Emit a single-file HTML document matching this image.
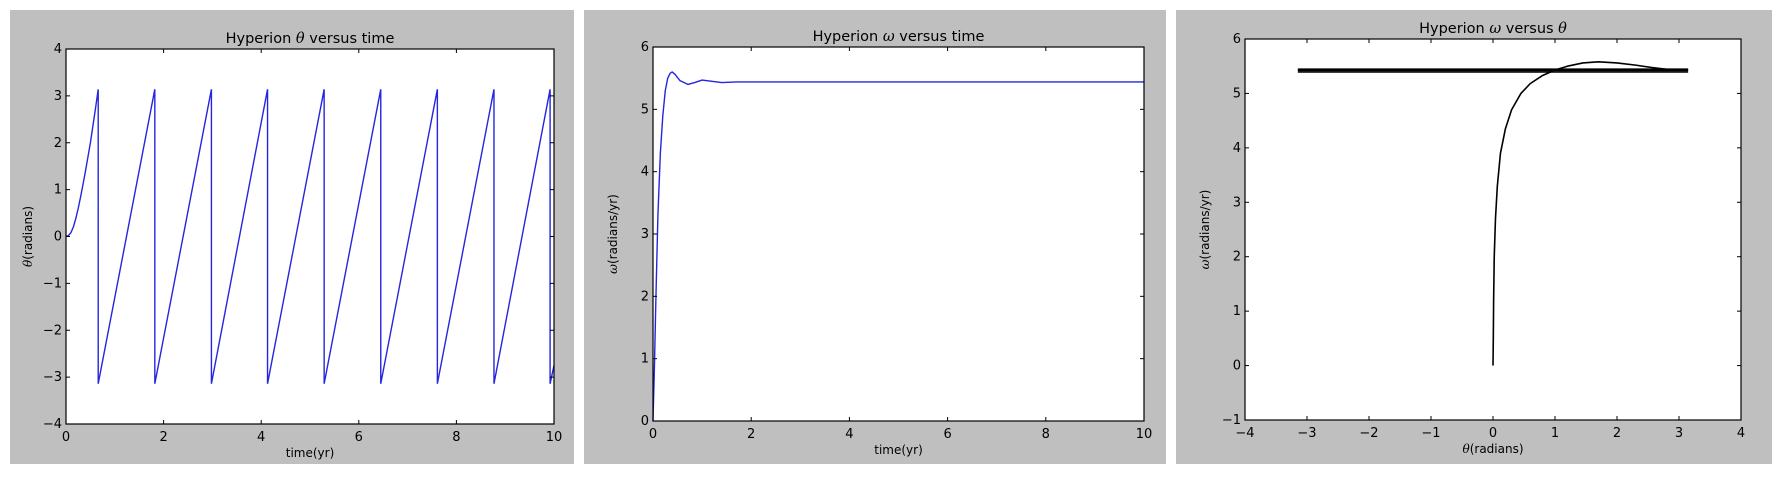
<!DOCTYPE html>
<html><head><meta charset="utf-8">
<style>
body{margin:0;background:#fff;width:1782px;height:475px;overflow:hidden;font-family:"Liberation Sans","DejaVu Sans",sans-serif}
svg text{font-family:"DejaVu Sans","Liberation Sans",sans-serif;fill:#000}
</style></head><body>
<svg id="c" width="1782" height="475" xmlns="http://www.w3.org/2000/svg"></svg>
<script>
// Panel 1: theta vs time (sawtooth)
const p1StartT=[0,0.05,0.1,0.15,0.2,0.25,0.3,0.35,0.4,0.45,0.5,0.55,0.6,0.66];
const p1StartTheta=[0,0.02,0.08,0.2,0.38,0.6,0.85,1.12,1.4,1.7,2.0,2.35,2.7,3.14];
const p1WrapTimes=[0.66,1.82,2.98,4.13,5.29,6.45,7.61,8.77,9.92];
const p1EndValue=-2.75;
// Panel 2: omega vs time
const p2T=[0,0.03,0.06,0.1,0.15,0.2,0.25,0.3,0.35,0.39,0.45,0.55,0.71,0.85,1.0,1.2,1.4,1.7,2.0,10];
const p2W=[0,0.9,2.0,3.3,4.3,4.9,5.3,5.5,5.58,5.6,5.56,5.46,5.4,5.43,5.47,5.45,5.43,5.44,5.44,5.44];
// Panel 3: omega vs theta
const p3Theta=[0,0.005,0.01,0.02,0.04,0.07,0.12,0.2,0.3,0.45,0.6,0.8,1.0,1.2,1.45,1.7,2.0,2.3,2.6,2.9,3.14];
const p3W=[0,0.5,1.2,2.0,2.7,3.3,3.9,4.35,4.7,5.0,5.18,5.33,5.43,5.5,5.56,5.58,5.56,5.52,5.47,5.43,5.42];
const p3BandLevels=[5.39,5.45,5.41,5.44,5.42,5.43];
const p1Yticks=[-4,-3,-2,-1,0,1,2,3,4], p1Xticks=[0,2,4,6,8,10];
const p2Yticks=[0,1,2,3,4,5,6], p2Xticks=[0,2,4,6,8,10];
const p3Yticks=[-1,0,1,2,3,4,5,6], p3Xticks=[-4,-3,-2,-1,0,1,2,3,4];

const svg=document.getElementById('c');const NS='http://www.w3.org/2000/svg';
function mk(tag,attrs,parent){const e=document.createElementNS(NS,tag);for(const k in attrs)e.setAttribute(k,attrs[k]);(parent||svg).appendChild(e);return e;}
function fmt(v){return v<0?'\u2212'+(-v):''+v;}
function panel(o){
  const g=mk('g',{});
  
  
  const bg=mk('rect',{x:o.gx,y:10,width:o.gw,height:454,fill:'#bfbfbf'},g);
  
  
  const pa=mk('rect',{x:o.x0,y:o.y0,width:o.x1-o.x0,height:o.y1-o.y0,fill:'#fff'},g);
  
  
  const sx=v=>o.x0+(v-o.xmin)/(o.xmax-o.xmin)*(o.x1-o.x0);
  const sy=v=>o.y1-(v-o.ymin)/(o.ymax-o.ymin)*(o.y1-o.y0);
  o.draw(g,sx,sy);
  const fr=mk('rect',{x:o.x0,y:o.y0,width:o.x1-o.x0,height:o.y1-o.y0,fill:'none',stroke:'#000','stroke-width':1.2},g);
  
  
  o.xt.forEach(v=>{const x=sx(v);
    mk('line',{x1:x,x2:x,y1:o.y1,y2:o.y1-4,stroke:'#000'},g);
    mk('line',{x1:x,x2:x,y1:o.y0,y2:o.y0+4,stroke:'#000'},g);
    const t=mk('text',{x:x,y:o.y1+17,'text-anchor':'middle','font-size':13},g);t.textContent=fmt(v);
    
    });
  o.yt.forEach(v=>{const y=sy(v);
    mk('line',{x1:o.x0,x2:o.x0+4,y1:y,y2:y,stroke:'#000'},g);
    mk('line',{x1:o.x1,x2:o.x1-4,y1:y,y2:y,stroke:'#000'},g);
    const t=mk('text',{x:o.x0-4,y:y+4,'text-anchor':'end','font-size':13},g);t.textContent=fmt(v);
    
    });
  const ti=mk('text',{x:(o.x0+o.x1)/2,y:o.y0-6,'text-anchor':'middle','font-size':14.5},g);ti.innerHTML=o.title;
  
  
  const xl=mk('text',{x:(o.x0+o.x1)/2,y:o.y1+33,'text-anchor':'middle','font-size':12},g);xl.innerHTML=o.xlabel;
  
  
  const cy=(o.y0+o.y1)/2;
  const yl=mk('text',{x:o.ylx,y:cy,'text-anchor':'middle','font-size':12,transform:`rotate(-90 ${o.ylx} ${cy})`},g);yl.innerHTML=o.ylabel;
  
  
}
const it='<tspan font-family="DejaVu Serif" font-style="italic">';
panel({name:'theta-vs-time-panel',gx:10,gw:564,x0:66,x1:554,y0:49,y1:424,xmin:0,xmax:10,ymin:-4,ymax:4,xt:p1Xticks,yt:p1Yticks,ylx:32,
 title:'Hyperion '+it+'θ</tspan> versus time',xlabel:'time(yr)',ylabel:it+'θ</tspan>(radians)',
 draw:(g,sx,sy)=>{let pts=p1StartT.map((t,i)=>[sx(t),sy(p1StartTheta[i])]);
   for(let i=0;i<p1WrapTimes.length;i++){const t=p1WrapTimes[i];pts.push([sx(t),sy(-3.14)]);
     if(i+1<p1WrapTimes.length)pts.push([sx(p1WrapTimes[i+1]),sy(3.14)]);}
   pts.push([sx(10),sy(p1EndValue)]);
   const p=mk('polyline',{points:pts.map(q=>q.join(',')).join(' '),fill:'none',stroke:'#2525e0','stroke-width':1.4},g);
   
   }});
panel({name:'omega-vs-time-panel',gx:584,gw:582,x0:653,x1:1144,y0:47,y1:421,xmin:0,xmax:10,ymin:0,ymax:6,xt:p2Xticks,yt:p2Yticks,ylx:617,
 title:'Hyperion '+it+'ω</tspan> versus time',xlabel:'time(yr)',ylabel:it+'ω</tspan>(radians/yr)',
 draw:(g,sx,sy)=>{const p=mk('polyline',{points:p2T.map((t,i)=>sx(t)+','+sy(p2W[i])).join(' '),fill:'none',stroke:'#2525e0','stroke-width':1.4,'stroke-linejoin':'round'},g);
   
   }});
panel({name:'omega-vs-theta-panel',gx:1176,gw:596,x0:1245,x1:1741,y0:39,y1:420,xmin:-4,xmax:4,ymin:-1,ymax:6,xt:p3Xticks,yt:p3Yticks,ylx:1209,
 title:'Hyperion '+it+'ω</tspan> versus '+it+'θ</tspan>',xlabel:it+'θ</tspan>(radians)',ylabel:it+'ω</tspan>(radians/yr)',
 draw:(g,sx,sy)=>{p3BandLevels.forEach(w=>{const l=mk('line',{x1:sx(-3.14),x2:sx(3.14),y1:sy(w),y2:sy(w),stroke:'#000','stroke-width':1.1,'stroke-linecap':'round'},g);
     
     });
   const p=mk('polyline',{points:p3Theta.map((t,i)=>sx(t)+','+sy(p3W[i])).join(' '),fill:'none',stroke:'#000','stroke-width':1.6,'stroke-linejoin':'round'},g);
   
   }});
</script>
</body></html>
